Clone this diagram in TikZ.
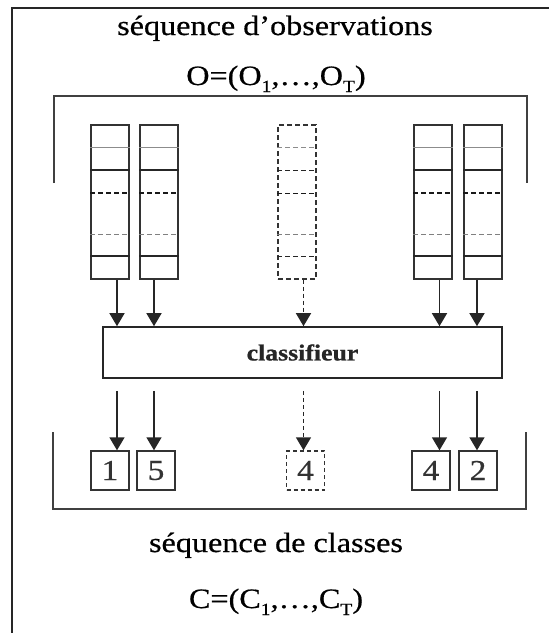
\documentclass[tikz,border=0pt]{standalone}
\usepackage{fontspec}
\setmainfont{Liberation Serif}[FakeStretch=1.15]
\newfontfamily\heavyfont{Liberation Serif}[FakeStretch=1.15, FakeBold=0.6]
\newfontfamily\heavybold{Liberation Serif Bold}[FakeStretch=1.12, FakeBold=0.8]
\usetikzlibrary{arrows.meta,calc}
\newcommand\lowsub[1]{\raisebox{-7pt}{\fontsize{17}{17}\selectfont #1}}
\tikzset{
  frame/.style={line width=1.8pt, black!85},
  bracket/.style={line width=1.6pt, black!75},
  col/.style={draw, line width=1.6pt, black!80, minimum width=38pt, minimum height=154pt, inner sep=0pt},
  dcol/.style={col, line width=1.4pt, dash pattern=on 5pt off 3pt},
  dsh/.style={dash pattern=on 5pt off 3pt},
  arr/.style={line width=1.4pt, black!85, -{Triangle[width=15pt,length=13pt]}},
  darr/.style={arr, dash pattern=on 4pt off 3pt},
  outbox/.style={draw, line width=1.4pt, black!80, minimum width=38pt, minimum height=39pt, inner sep=0pt, font=\fontsize{29}{30}\heavyfont},
  doutbox/.style={outbox, dash pattern=on 4pt off 3pt},
  clsbox/.style={draw, line width=1.6pt, black!85, minimum width=399pt, minimum height=51pt, inner sep=0pt, font=\fontsize{23}{25}\heavybold},
  big/.style={font=\fontsize{28}{30}\heavyfont, inner sep=0pt, anchor=base}
}
% name, style of black lines, style of gray solid line
\newcommand\colinner[3]{%
  \draw[line width=1.1pt, black!45, #3] ($(#1.north west)+(0,23)$) -- ($(#1.north east)+(0,23)$);
  \draw[line width=1.5pt, black!85, #2] ($(#1.north west)+(0,46)$) -- ($(#1.north east)+(0,46)$);
  \draw[line width=1.5pt, black!90, dsh] ($(#1.north west)+(0,69)$) -- ($(#1.north east)+(0,69)$);
  \draw[line width=1.1pt, black!50, dsh] ($(#1.north west)+(0,110)$) -- ($(#1.north east)+(0,110)$);
  \draw[line width=1.5pt, black!85, #2] ($(#1.north west)+(0,132)$) -- ($(#1.north east)+(0,132)$);
}
\begin{document}
\begin{tikzpicture}[x=1pt,y=-1pt]
\useasboundingbox (0,0) rectangle (549,633);
% outer frame
\draw[frame] (12,633) -- (12,8) -- (549,8);
% titles
\node[big] (t1) at (275,35) {séquence d’observations};
\node[big] (t2) at (276,85) {O=(O\lowsub{1},…,O\lowsub{T})};
\node[big] (t3) at (276,552) {séquence de classes};
\node[big] (t4) at (276,608) {C=(C\lowsub{1},…,C\lowsub{T})};
% brackets
\draw[bracket] (54,183) -- (54,96) -- (527,96) -- (527,183);
\draw[bracket] (53,432) -- (53,509) -- (526,509) -- (526,432);
% columns
\node[col] (c1) at (110,202) {};
\node[col] (c2) at (159,202) {};
\node[dcol] (c3) at (297,202) {};
\node[col] (c4) at (433,202) {};
\node[col] (c5) at (483,202) {};
\colinner{c1}{solid}{solid}
\colinner{c2}{solid}{solid}
\colinner{c3}{dsh}{dsh}
\colinner{c4}{solid}{solid}
\colinner{c5}{solid}{solid}
% classifier
\node[clsbox] (cls) at (302.5,352.5) {classifieur};
% output boxes
\node[outbox] (o1) at (110,470.5) {1};
\node[outbox] (o2) at (156,470.5) {5};
\node[doutbox] (o3) at (305.5,470.5) {4};
\node[outbox] (o4) at (431,470.5) {4};
\node[outbox] (o5) at (478,470.5) {2};
% arrow lines
\coordinate (u1) at (117,0);
\coordinate (u2) at (154,0);
\coordinate (u3) at (303.5,0);
\coordinate (u4) at (439.5,0);
\coordinate (u5) at (477,0);
\draw[arr]  (u1 |- c1.south) -- (u1 |- cls.north);
\draw[arr]  (u2 |- c2.south) -- (u2 |- cls.north);
\draw[darr] (u3 |- c3.south) -- (u3 |- cls.north);
\draw[arr]  (u4 |- c4.south) -- (u4 |- cls.north);
\draw[arr]  (u5 |- c5.south) -- (u5 |- cls.north);
\draw[arr]  ($(u1 |- cls.south)+(0,12)$) -- (u1 |- o1.north);
\draw[arr]  ($(u2 |- cls.south)+(0,12)$) -- (u2 |- o2.north);
\draw[darr] ($(u3 |- cls.south)+(0,12)$) -- (u3 |- o3.north);
\draw[arr]  ($(u4 |- cls.south)+(0,12)$) -- (u4 |- o4.north);
\draw[arr]  ($(u5 |- cls.south)+(0,12)$) -- (u5 |- o5.north);
\end{tikzpicture}
\end{document}
